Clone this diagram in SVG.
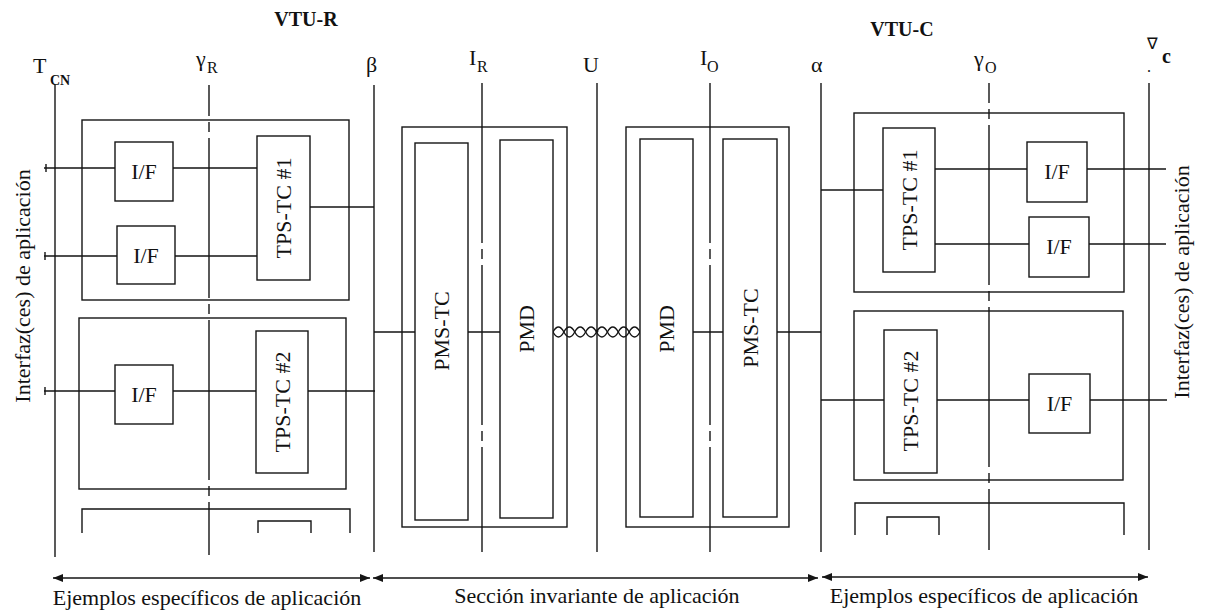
<svg xmlns="http://www.w3.org/2000/svg" width="1210" height="614" viewBox="0 0 1210 614" font-family="'Liberation Serif', 'Times New Roman', serif">
<style>
  .ln{stroke:#151515;stroke-width:1.4;fill:none}
  .bx{fill:#fff;stroke:#151515;stroke-width:1.4}
  .ob{fill:none;stroke:#151515;stroke-width:1.4}
  .dd{stroke-dasharray:160 6 10 6}
  text{font-family:'Liberation Serif','Times New Roman',serif;fill:#111}
  .t22{font-size:22px}
  .mid{text-anchor:middle}
  .sub{font-size:16px}
  .hd{font-size:20px;font-weight:bold}
</style>
<defs>
  <marker id="ah" viewBox="0 0 10 8" refX="10" refY="4" markerWidth="10" markerHeight="8" markerUnits="userSpaceOnUse" orient="auto-start-reverse">
    <path d="M0,0 L10,4 L0,8 Z" fill="#151515"/>
  </marker>
</defs>
<rect width="1210" height="614" fill="#fff"/>

<!-- headings -->
<g id="headings">
  <text class="hd" x="306" y="26" text-anchor="middle">VTU-R</text>
  <text class="hd" x="902" y="36" text-anchor="middle">VTU-C</text>
</g>

<!-- reference point labels -->
<g id="ref-labels">
  <text class="t22" x="33" y="73">T</text><text x="50" y="85" style="font-size:14px;font-weight:bold">CN</text>
  <text class="t22" x="196" y="66">γ</text><text class="sub" x="207" y="73">R</text>
  <text class="t22" x="366" y="72">β</text>
  <text class="t22" x="469" y="65">I</text><text class="sub" x="477" y="72">R</text>
  <text class="t22" x="583" y="72">U</text>
  <text class="t22" x="700" y="65">I</text><text class="sub" x="707" y="72">O</text>
  <text class="t22" x="811" y="72">α</text>
  <text class="t22" x="974" y="66">γ</text><text class="sub" x="985" y="73">O</text>
  <text x="1147" y="49" style="font-size:16px">∇</text><text x="1162" y="63" style="font-size:20px;font-weight:bold">c</text><text x="1147" y="72" style="font-size:16px">.</text>
</g>

<!-- reference point lines -->
<g id="ref-lines">
  <path class="ln" d="M55,85 V557"/>
  <path class="ln dd" d="M209,85 V555" stroke-dashoffset="129"/>
  <path class="ln" d="M374,85 V552"/>
  <path class="ln dd" d="M482,83 V552"/>
  <path class="ln" d="M597,83 V552"/>
  <path class="ln dd" d="M710,83 V552"/>
  <path class="ln" d="M821,83 V552"/>
  <path class="ln dd" d="M989,83 V550" stroke-dashoffset="140"/>
  <path class="ln" d="M1149,83 V550"/>
</g>

<!-- side labels -->
<g id="side-labels">
  <text class="t22 mid" transform="translate(22,286) rotate(-90)" dy="0.35em">Interfaz(ces) de aplicación</text>
  <text class="t22 mid" transform="translate(1181,282) rotate(-90)" dy="0.35em">Interfaz(ces) de aplicación</text>
</g>

<!-- VTU-R application-specific -->
<g id="vtur-app1"><rect class="ob" x="82" y="120" width="267" height="180"/></g>
<g id="vtur-app2"><rect class="ob" x="79" y="318" width="267" height="171"/></g>
<g id="vtur-app3"><path class="ln" d="M82,533 V509 H350 V533"/><path class="ln" d="M258,533 V521 H311 V533"/></g>

<!-- VTU-C application-specific -->
<g id="vtuc-app1"><rect class="ob" x="854" y="113" width="270" height="179"/></g>
<g id="vtuc-app2"><rect class="ob" x="854" y="311" width="269" height="169"/></g>
<g id="vtuc-app3"><path class="ln" d="M855,535 V503 H1124 V535"/><path class="ln" d="M887,535 V517 H939 V535"/></g>

<!-- invariant blocks -->
<g id="vtur-core"><rect class="ob" x="402" y="127" width="165" height="400"/></g>
<g id="vtuc-core"><rect class="ob" x="626" y="127" width="163" height="400"/></g>

<!-- connectors -->
<g id="connectors">
  <path class="ln" d="M44,168 H115 M173,168 H257"/>
  <path class="ln" d="M44,256 H117 M175,256 H257"/>
  <path class="ln" d="M310,207 H374"/>
  <path class="ln" d="M44,391 H115 M173,391 H256 M308,391 H375"/>
  <path class="ln" d="M46,164 V172 M45,252 V260 M45,387 V395"/>
  <path class="ln" d="M374,332 H415 M468,332 H500"/>
  <path class="ln" d="M693,332 H723 M777,332 H821"/>
  <path class="ln" d="M553,332 Q558.44,322 563.875,332 T574.75,332 T585.625,332 T596.5,332 T607.375,332 T618.25,332 T629.125,332 T640,332"/>
  <path class="ln" d="M553,332 Q558.44,342 563.875,332 T574.75,332 T585.625,332 T596.5,332 T607.375,332 T618.25,332 T629.125,332 T640,332"/>
  <circle cx="597" cy="331" r="1.5" fill="#151515"/>
  <path class="ln" d="M821,190 H883"/>
  <path class="ln" d="M935,169 H1027 M1087,169 H1166"/>
  <path class="ln" d="M935,244 H1029 M1089,244 H1166"/>
  <path class="ln" d="M821,400 H884 M937,400 H1029 M1090,400 H1167"/>
</g>

<!-- VTU-R nodes -->
<g id="r-if1"><rect class="bx" x="115" y="142" width="58" height="59"/><text class="t22 mid" x="144" y="179">I/F</text></g>
<g id="r-if2"><rect class="bx" x="117" y="226" width="58" height="58"/><text class="t22 mid" x="146" y="263">I/F</text></g>
<g id="r-tps1"><rect class="bx" x="257" y="136" width="53" height="144"/><text class="t22 mid" transform="translate(283.5,208) rotate(-90)" dy="0.35em">TPS-TC #1</text></g>
<g id="r-if3"><rect class="bx" x="115" y="365" width="58" height="59"/><text class="t22 mid" x="144" y="402">I/F</text></g>
<g id="r-tps2"><rect class="bx" x="256" y="331" width="52" height="142"/><text class="t22 mid" transform="translate(282,402) rotate(-90)" dy="0.35em">TPS-TC #2</text></g>

<!-- invariant nodes -->
<g id="r-pmstc"><rect class="bx" x="415" y="143" width="53" height="377"/><text class="t22 mid" transform="translate(441.5,331) rotate(-90)" dy="0.35em">PMS-TC</text></g>
<g id="r-pmd"><rect class="bx" x="500" y="140" width="53" height="378"/><text class="t22 mid" transform="translate(526.5,329) rotate(-90)" dy="0.35em">PMD</text></g>
<g id="c-pmd"><rect class="bx" x="640" y="139" width="53" height="378"/><text class="t22 mid" transform="translate(666.5,329) rotate(-90)" dy="0.35em">PMD</text></g>
<g id="c-pmstc"><rect class="bx" x="723" y="139" width="54" height="378"/><text class="t22 mid" transform="translate(750,328) rotate(-90)" dy="0.35em">PMS-TC</text></g>

<!-- VTU-C nodes -->
<g id="c-tps1"><rect class="bx" x="883" y="128" width="52" height="144"/><text class="t22 mid" transform="translate(909,200) rotate(-90)" dy="0.35em">TPS-TC #1</text></g>
<g id="c-if1"><rect class="bx" x="1027" y="142" width="60" height="60"/><text class="t22 mid" x="1057" y="179">I/F</text></g>
<g id="c-if2"><rect class="bx" x="1029" y="217" width="60" height="60"/><text class="t22 mid" x="1059" y="254">I/F</text></g>
<g id="c-tps2"><rect class="bx" x="884" y="330" width="53" height="143"/><text class="t22 mid" transform="translate(910.5,401) rotate(-90)" dy="0.35em">TPS-TC #2</text></g>
<g id="c-if3"><rect class="bx" x="1029" y="374" width="61" height="59"/><text class="t22 mid" x="1059.5" y="411">I/F</text></g>

<!-- span arrows -->
<g id="spans">
  <path class="ln" d="M53,578 H370" marker-start="url(#ah)" marker-end="url(#ah)"/>
  <path class="ln" d="M373,578 H818" marker-start="url(#ah)" marker-end="url(#ah)"/>
  <path class="ln" d="M822,577 H1148" marker-start="url(#ah)" marker-end="url(#ah)"/>
  <text class="t22 mid" x="207" y="605">Ejemplos específicos de aplicación</text>
  <text class="t22 mid" x="597" y="603">Sección invariante de aplicación</text>
  <text class="t22 mid" x="984" y="603">Ejemplos específicos de aplicación</text>
</g>
</svg>
